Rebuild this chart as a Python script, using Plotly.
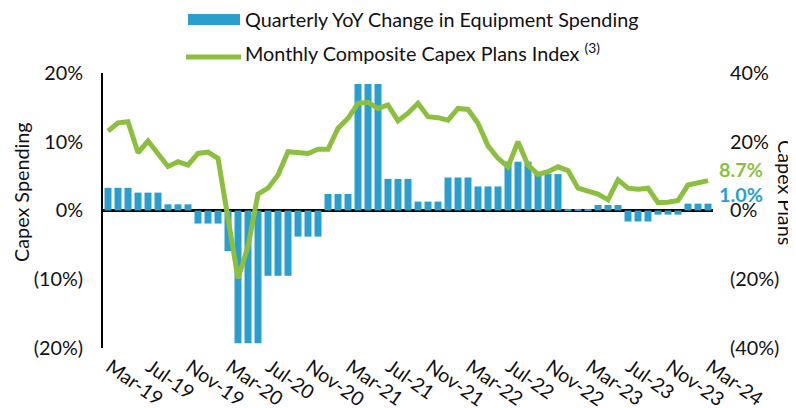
import pandas as pd
import plotly.graph_objects as go

# ---- data ----
months = [d.strftime("%b-%y") for d in pd.date_range("2019-03-01", "2024-03-01", freq="MS")]
tick_months = months[::4]

equipment_yoy = [
    3.3, 3.3, 3.3, 2.6, 2.6, 2.6, 0.9, 0.9, 0.9, -1.9, -1.9, -1.9,
    -5.9, -19.3, -19.3, -19.3, -9.5, -9.5, -9.5, -3.8, -3.8, -3.8, 2.4, 2.4,
    2.4, 18.4, 18.4, 18.4, 4.6, 4.6, 4.6, 1.3, 1.3, 1.3, 4.8, 4.8,
    4.8, 3.5, 3.5, 3.5, 7.1, 7.1, 7.1, 5.3, 5.3, 5.3, 0.15, 0.15,
    0.15, 0.8, 0.8, 0.8, -1.6, -1.6, -1.6, -0.6, -0.6, -0.6, 1.0, 1.0, 1.0,
]

capex_plans = [
    23.1, 25.5, 25.8, 16.8, 20.2, 16.4, 12.8, 14.2, 13.2, 16.6, 17.0, 15.2,
    -2.5, -19.7, -10.5, 4.8, 6.5, 10.3, 17.1, 16.9, 16.6, 17.8, 17.8, 23.9,
    26.8, 31.2, 31.5, 29.7, 30.7, 26.1, 28.3, 31.2, 27.3, 27.0, 26.3, 29.7,
    29.4, 25.4, 18.8, 15.2, 12.7, 20.0, 13.2, 10.5, 11.3, 12.7, 11.6, 6.5,
    5.8, 4.8, 3.1, 8.9, 6.5, 6.2, 6.5, 2.3, 2.4, 2.9, 7.4, 8.1, 8.7,
]

left_ticks = [-20, -10, 0, 10, 20]
left_ticktext = ["(20%)", "(10%)", "0%", "10%", "20%"]
right_ticks = [-40, -20, 0, 20, 40]
right_ticktext = ["(40%)", "(20%)", "0%", "20%", "40%"]

bar_name = "Quarterly YoY Change in Equipment Spending"
line_name = "Monthly Composite Capex Plans Index <sup>(3)</sup>"

# ---- style ----
BLUE = "#2A9FCD"
GREEN = "#8CBF3F"
FONT = "Lato"
TXT = "#111111"
FS = 19.8
OFF = 8  # page body margin in the browser
W, H = 796 - OFF, 408 - OFF
L, R, T, B = 103 - OFF, 83, 73 - OFF, 60
PW, PH = W - L - R, H - T - B


def px(xw):
    # window pixel x -> paper coordinate
    return (xw - OFF - L) / PW


def py(yw):
    # window pixel y -> paper coordinate
    return (H - B - (yw - OFF)) / PH


fig = go.Figure()
fig.add_trace(go.Bar(x=months, y=equipment_yoy, marker=dict(color=BLUE, line=dict(width=0)),
                     name=bar_name, showlegend=False, yaxis="y"))
fig.add_trace(go.Scatter(x=months, y=capex_plans, mode="lines", line=dict(color=GREEN, width=5),
                         name=line_name, showlegend=False, yaxis="y2"))

fig.update_layout(
    width=W, height=H,
    margin=dict(l=L, r=R, t=T, b=B, autoexpand=False),
    paper_bgcolor="white", plot_bgcolor="white",
    font=dict(family=FONT, size=FS, color=TXT),
    bargap=0.3,
    xaxis=dict(type="category", categoryorder="array", categoryarray=months,
               range=[-0.5, len(months) - 0.5], tickmode="array", tickvals=tick_months,
               ticktext=tick_months, tickangle=35, showgrid=False, showline=False,
               zeroline=False, ticks="", ticklabelstandoff=3, ticklabelshift=2,
               automargin=False, tickfont=dict(size=19.5)),
    yaxis=dict(range=[-20, 20], tickvals=left_ticks, ticktext=left_ticktext, showgrid=False,
               zeroline=True, zerolinecolor="black", zerolinewidth=3, showline=True,
               linecolor="black", linewidth=2, ticks="", ticklabelstandoff=14, automargin=False),
    yaxis2=dict(range=[-40, 40], tickvals=right_ticks, ticktext=right_ticktext, overlaying="y",
                side="right", showgrid=False, zeroline=False, showline=False, ticks="",
                ticklabelstandoff=16, automargin=False),
    showlegend=False,
)

# manual legend
fig.add_shape(type="rect", xref="paper", yref="paper", x0=px(188), x1=px(240), y0=py(25), y1=py(14),
              fillcolor=BLUE, line=dict(width=0))
fig.add_shape(type="line", xref="paper", yref="paper", x0=px(186), x1=px(241), y0=py(57), y1=py(57),
              line=dict(color=GREEN, width=5))
fig.add_annotation(xref="paper", yref="paper", x=px(243), y=py(19), xanchor="left", yanchor="middle",
                   text=bar_name, showarrow=False, font=dict(size=FS, color=TXT))
fig.add_annotation(xref="paper", yref="paper", x=px(243), y=py(52), xanchor="left", yanchor="middle",
                   text=line_name, showarrow=False, font=dict(size=FS, color=TXT))

# axis titles
fig.add_annotation(xref="paper", yref="paper", x=px(21), y=py(192), xanchor="center", yanchor="middle",
                   text="Capex Spending", textangle=-90, showarrow=False, font=dict(size=FS))
fig.add_annotation(xref="paper", yref="paper", x=px(786), y=py(192), xanchor="center", yanchor="middle",
                   text="Capex Plans", textangle=90, showarrow=False, font=dict(size=FS))

# end value labels
fig.add_annotation(xref="paper", yref="paper", x=px(717), y=py(169), xanchor="left", yanchor="middle",
                   text=f"{capex_plans[-1]:.1f}%", showarrow=False,
                   font=dict(size=FS, color=GREEN, family=FONT, weight="bold"))
fig.add_annotation(xref="paper", yref="paper", x=px(717), y=py(194), xanchor="left", yanchor="middle",
                   text=f"{equipment_yoy[-1]:.1f}%", showarrow=False,
                   font=dict(size=FS, color=BLUE, family=FONT, weight="bold"))

fig.write_html("out.html")
